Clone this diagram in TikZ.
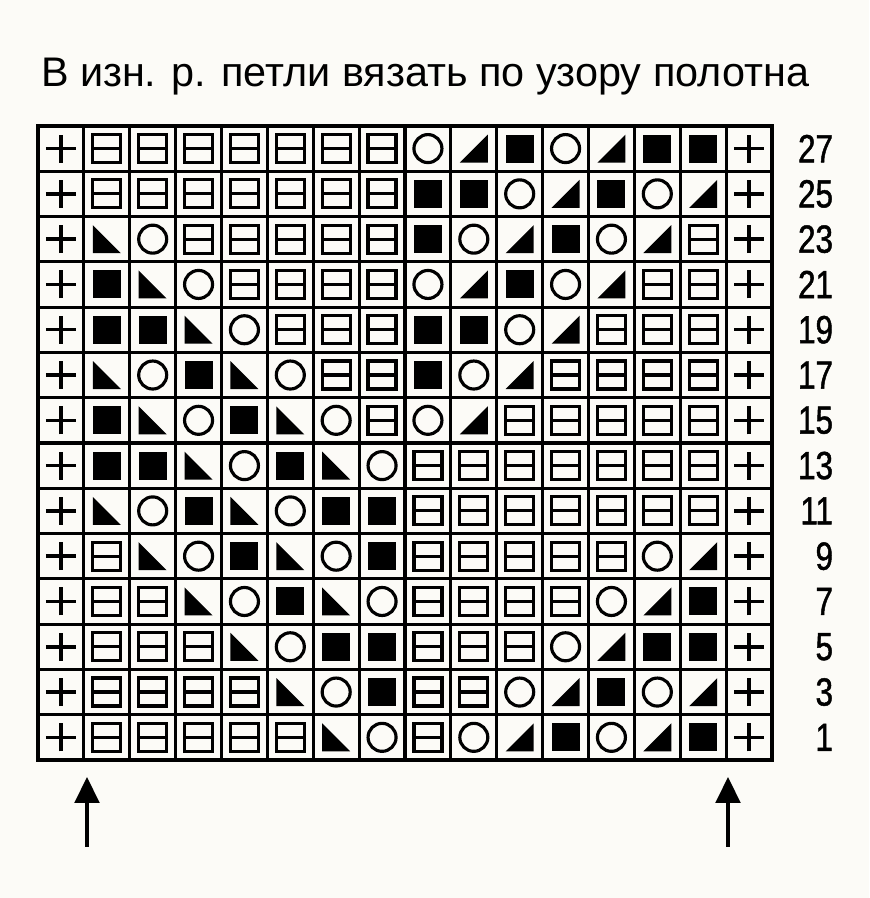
\documentclass[tikz,border=0pt]{standalone}
\usepackage{fontspec}
\setmainfont{Liberation Sans}
\newfontfamily\numfont[FakeStretch=0.8, FakeBold=1.2]{Liberation Sans}
\usetikzlibrary{arrows.meta}
\definecolor{paper}{RGB}{252,251,247}

\begin{document}
\begin{tikzpicture}[
  x=0.03cm, y=0.03cm,
  every node/.style={inner sep=0pt, outer sep=0pt},
  cell/.style={rectangle, draw, line width=2.7pt, minimum width=1.37625cm, minimum height=1.3587cm},
  ink/.style={line width=2.7pt},
  stP/.style={cell, path picture={\draw[ink, line width=3pt, shift={(path picture bounding box.center)}] (-15,0) -- (15,0) (0,-14) -- (0,14);}},
  stH/.style={cell, path picture={\draw[ink, shift={(path picture bounding box.center)}] (-14,-14) rectangle (14,14) (-14,0) -- (14,0);}},
  stO/.style={cell, path picture={\draw[ink, shift={(path picture bounding box.center)}] (0,0) circle (14);}},
  stS/.style={cell, path picture={\fill[shift={(path picture bounding box.center)}] (-14,-14) rectangle (14,14);}},
  stL/.style={cell, path picture={\fill[shift={(path picture bounding box.center)}] (-14,14) -- (-14,-14) -- (14,-14) -- cycle;}},
  stR/.style={cell, path picture={\fill[shift={(path picture bounding box.center)}] (-14,-14) -- (14,-14) -- (14,14) -- cycle;}},
  rownum/.style={anchor=east, font=\numfont\fontsize{33.5}{33}\selectfont},
  arrow/.style={line width=3pt, -{Triangle[length=0.78cm, width=0.74cm]}}
]
\fill[paper] (0,0) rectangle (869,898);
\useasboundingbox (0,0) rectangle (869,898);

% Heading
\node[anchor=base west, font=\fontsize{35.3}{40}\selectfont] (title) at (41,811) {В изн. р. петли вязать по узору полотна};

% Chart, odd rows from the bottom
\foreach \n/\row in {
  27/{P,H,H,H,H,H,H,H,O,R,S,O,R,S,S,P},
  25/{P,H,H,H,H,H,H,H,S,S,O,R,S,O,R,P},
  23/{P,L,O,H,H,H,H,H,S,O,R,S,O,R,H,P},
  21/{P,S,L,O,H,H,H,H,O,R,S,O,R,H,H,P},
  19/{P,S,S,L,O,H,H,H,S,S,O,R,H,H,H,P},
  17/{P,L,O,S,L,O,H,H,S,O,R,H,H,H,H,P},
  15/{P,S,L,O,S,L,O,H,O,R,H,H,H,H,H,P},
  13/{P,S,S,L,O,S,L,O,H,H,H,H,H,H,H,P},
  11/{P,L,O,S,L,O,S,S,H,H,H,H,H,H,H,P},
  9/{P,H,L,O,S,L,O,S,H,H,H,H,H,O,R,P},
  7/{P,H,H,L,O,S,L,O,H,H,H,H,O,R,S,P},
  5/{P,H,H,H,L,O,S,S,H,H,H,O,R,S,S,P},
  3/{P,H,H,H,H,L,O,S,H,H,O,R,S,O,R,P},
  1/{P,H,H,H,H,H,L,O,H,O,R,S,O,R,S,P}} {
  \pgfmathsetmacro\yc{138+((\n+1)/2-0.5)*45.29}
  \foreach \s [count=\c] in \row {
    \pgfmathsetmacro\xc{38+(\c-0.5)*45.875}
    \node[st\s] (r\n-\c) at (\xc,\yc) {};
  }
  % row number
  \node[rownum] (n\n) at (833,\yc) {\n};
}

% Repeat marks
\coordinate (tailL) at (87,51);
\coordinate (tipL) at (87,121);
\coordinate (tailR) at (728,51);
\coordinate (tipR) at (728,121);
\draw[arrow] (tailL) -- (tipL);
\draw[arrow] (tailR) -- (tipR);

\end{tikzpicture}
\end{document}
